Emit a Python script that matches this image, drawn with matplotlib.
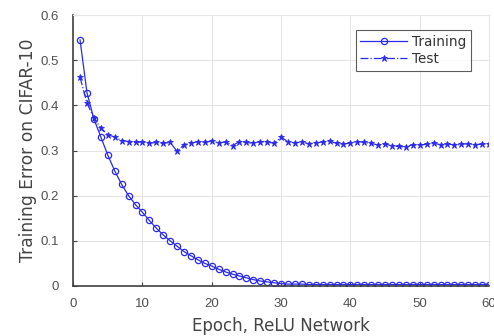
import matplotlib
matplotlib.use("Agg")
import matplotlib.pyplot as plt
import numpy as np

epochs = list(range(1, 61))
train_err = [0.545, 0.428, 0.37, 0.33, 0.29, 0.255, 0.225, 0.200, 0.180, 0.163,
             0.145, 0.128, 0.113, 0.100, 0.088, 0.076, 0.067, 0.058, 0.050, 0.044,
             0.037, 0.031, 0.026, 0.022, 0.018, 0.014, 0.011, 0.009, 0.007, 0.005,
             0.004, 0.004, 0.004, 0.003, 0.003, 0.003, 0.003, 0.003, 0.003, 0.003,
             0.003, 0.003, 0.003, 0.003, 0.003, 0.003, 0.003, 0.003, 0.003, 0.003,
             0.003, 0.003, 0.003, 0.003, 0.003, 0.003, 0.003, 0.003, 0.003, 0.003]
test_err = [0.462, 0.405, 0.372, 0.350, 0.335, 0.330, 0.322, 0.320, 0.318, 0.319,
            0.316, 0.318, 0.316, 0.318, 0.298, 0.313, 0.316, 0.320, 0.318, 0.321,
            0.317, 0.319, 0.311, 0.320, 0.318, 0.316, 0.320, 0.319, 0.316, 0.330,
            0.319, 0.317, 0.319, 0.315, 0.317, 0.319, 0.321, 0.316, 0.314, 0.317,
            0.320, 0.318, 0.316, 0.312, 0.315, 0.310, 0.309, 0.308, 0.313, 0.312,
            0.314, 0.316, 0.313, 0.315, 0.312, 0.314, 0.315, 0.313, 0.314, 0.315]

xticks = [0, 10, 20, 30, 40, 50, 60]
yticks = [0, 0.1, 0.2, 0.3, 0.4, 0.5, 0.6]
ytick_labels = ["0", "0.1", "0.2", "0.3", "0.4", "0.5", "0.6"]

plt.rcParams['font.family'] = ['Liberation Sans', 'DejaVu Sans']
fig = plt.figure(figsize=(4.94, 3.36), dpi=100)
ax = fig.add_axes([0.148, 0.149, 0.842, 0.806])

blue = '#2a2aee'
ax.plot(epochs, train_err, '-', color=blue, lw=0.9, marker='o', ms=4.5,
        mfc='none', mec=blue, mew=0.9, label='Training')
ax.plot(epochs, test_err, '-.', color=blue, lw=0.9, marker='*', ms=5,
        mfc=blue, mec=blue, mew=0.6, label='Test')

ax.set_xlim(0, 60)
ax.set_ylim(0, 0.6)
ax.set_xticks(xticks)
ax.set_yticks(yticks)
ax.set_yticklabels(ytick_labels)
ax.grid(True, color='#e4e4e4', lw=0.7)
ax.set_axisbelow(True)
for side in ['top', 'right']:
    ax.spines[side].set_color('#e6e6e6')
for side in ['left', 'bottom']:
    ax.spines[side].set_color('#404040')
    ax.spines[side].set_linewidth(1.2)
ax.tick_params(axis='both', direction='in', length=3, labelsize=9.5,
               colors='#404040', labelcolor='#505050')
ax.tick_params(axis='x', pad=9)
ax.tick_params(axis='y', pad=10)
ax.set_ylabel('Training Error on CIFAR-10', fontsize=12.3, color='#444444',
              labelpad=3, family='DejaVu Sans')
ax.set_xlabel('Epoch, ReLU Network', fontsize=12, color='#444444',
              labelpad=5, family='DejaVu Sans')

leg = ax.legend(loc='upper right', bbox_to_anchor=(0.957, 0.945), borderaxespad=0,
                prop={'family': 'DejaVu Sans', 'size': 9.8}, frameon=True,
                fancybox=False, edgecolor='#333333',
                handlelength=3.4, borderpad=0.35, labelspacing=0.25, handletextpad=0.4)
leg.get_frame().set_linewidth(0.8)
for t in leg.get_texts():
    t.set_color('#333333')

fig.savefig('out.png', dpi=100)
